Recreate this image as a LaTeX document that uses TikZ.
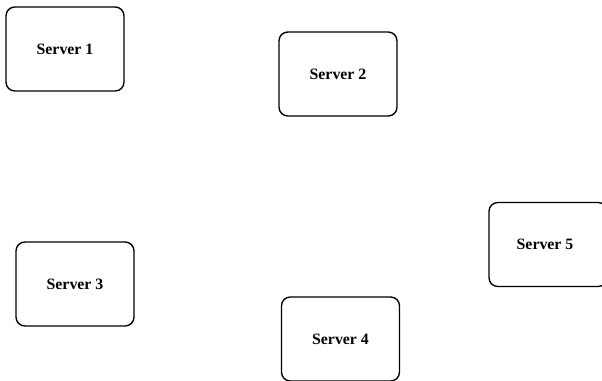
\documentclass[tikz,border=0pt]{standalone}
\usepackage{fontspec}
\setmainfont{Liberation Serif}
\usetikzlibrary{positioning}

\begin{document}
\begin{tikzpicture}[
  x=0.02cm, y=-0.02cm,
  server/.style={draw, line width=0.8pt, rounded corners=5pt,
                 minimum width=2.36cm, minimum height=1.68cm,
                 align=center, font=\fontsize{9}{11}\selectfont\bfseries}
]
  \useasboundingbox (0,0) rectangle (602,381);
  \clip (0,0) rectangle (602,381);

  \node[server] (srvA) at (65,49)    {Server 1};
  \node[server] (srvB) at (338,74)   {Server 2};
  \node[server] (srvC) at (75,284)   {Server 3};
  \node[server] (srvD) at (340.5,339) {Server 4};
  \node[server] (srvE) at (548,244.5) {Server 5\hspace*{0.12cm}};
\end{tikzpicture}
\end{document}
